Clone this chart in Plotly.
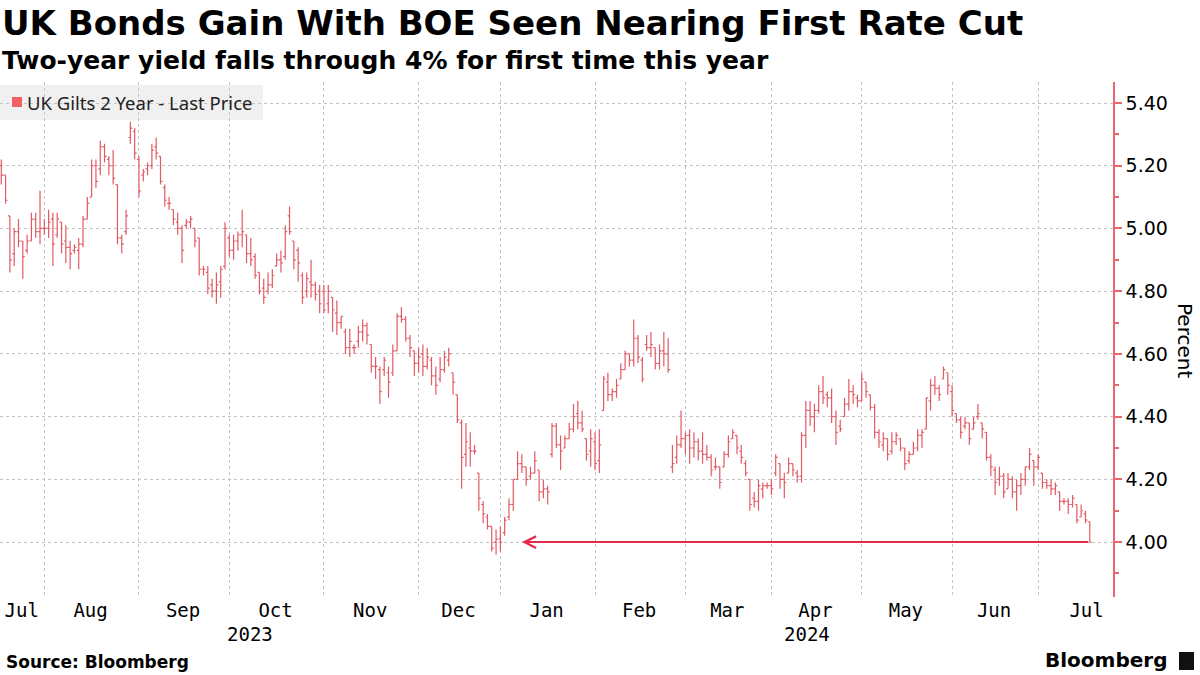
import pandas as pd
import plotly.graph_objects as go

# ---------------- data ----------------
uk_holidays = ["2023-08-28", "2023-12-25", "2023-12-26", "2024-01-01",
               "2024-03-29", "2024-04-01", "2024-05-06", "2024-05-27"]
first_day = "2023-07-18"
last_day = "2024-07-17"
axis_end_day = "2024-08-01"

opens = [
    5.20, 5.17, 5.04, 4.92, 4.99, 4.96, 4.93, 4.96, 5.03, 4.99,
    5.00, 5.00, 5.03, 4.98, 5.02, 4.96, 4.94, 4.93, 4.93, 4.95,
    5.03, 5.10, 5.20, 5.19, 5.26, 5.22, 5.20, 5.14, 4.97, 4.99,
    5.29, 5.31, 5.22, 5.17, 5.19, 5.20, 5.26, 5.23, 5.13, 5.08,
    5.06, 5.02, 5.00, 5.01, 5.02, 5.00, 4.97, 4.87, 4.86, 4.82,
    4.80, 4.83, 4.88, 4.97, 4.93, 4.96, 4.98, 4.98, 4.92, 4.91,
    4.86, 4.81, 4.80, 4.82, 4.88, 4.90, 4.91, 5.04, 4.96, 4.93,
    4.85, 4.80, 4.83, 4.82, 4.80, 4.80, 4.76, 4.78, 4.73, 4.70,
    4.67, 4.62, 4.62, 4.64, 4.67, 4.69, 4.63, 4.56, 4.55, 4.55,
    4.54, 4.54, 4.61, 4.72, 4.71, 4.65, 4.61, 4.57, 4.60, 4.56,
    4.58, 4.53, 4.52, 4.55, 4.58, 4.54, 4.47, 4.38, 4.28, 4.30,
    4.29, 4.22, 4.12, 4.08, 4.05, 4.00, 4.01, 4.03, 4.08, 4.12,
    4.20, 4.25, 4.24, 4.21, 4.22, 4.23, 4.16, 4.17, 4.28, 4.37,
    4.31, 4.30, 4.33, 4.36, 4.41, 4.38, 4.33, 4.29, 4.32, 4.26,
    4.42, 4.51, 4.47, 4.48, 4.52, 4.55, 4.60, 4.58, 4.65, 4.58,
    4.63, 4.62, 4.62, 4.57, 4.61, 4.60, 4.24, 4.27, 4.31, 4.33,
    4.34, 4.30, 4.32, 4.29, 4.28, 4.27, 4.24, 4.24, 4.24, 4.28,
    4.33, 4.34, 4.29, 4.25, 4.20, 4.14, 4.13, 4.17, 4.18, 4.18,
    4.22, 4.25, 4.20, 4.22, 4.25, 4.22, 4.21, 4.34, 4.42, 4.40,
    4.42, 4.48, 4.47, 4.46, 4.40, 4.37, 4.40, 4.44, 4.48, 4.46,
    4.45, 4.51, 4.47, 4.43, 4.35, 4.31, 4.33, 4.29, 4.32, 4.33,
    4.30, 4.26, 4.28, 4.30, 4.34, 4.36, 4.45, 4.50, 4.49, 4.52,
    4.54, 4.48, 4.41, 4.39, 4.37, 4.38, 4.36, 4.40, 4.38, 4.35,
    4.27, 4.23, 4.20, 4.21, 4.17, 4.20, 4.16, 4.18, 4.20, 4.24,
    4.26, 4.24, 4.22, 4.19, 4.18, 4.17, 4.16, 4.13, 4.13, 4.12,
    4.12, 4.08, 4.09, 4.065,
]
highs = [
    5.22, 5.17, 5.04, 5.00, 5.03, 4.96, 4.98, 5.05, 5.05, 5.12,
    5.03, 5.06, 5.05, 5.05, 5.02, 5.01, 4.96, 4.95, 4.97, 5.04,
    5.10, 5.22, 5.22, 5.28, 5.27, 5.23, 5.25, 5.14, 4.98, 5.06,
    5.34, 5.32, 5.23, 5.19, 5.21, 5.27, 5.29, 5.23, 5.14, 5.10,
    5.06, 5.05, 5.01, 5.03, 5.04, 5.00, 4.97, 4.88, 4.88, 4.84,
    4.86, 4.88, 5.02, 4.98, 4.98, 4.99, 5.06, 4.98, 4.97, 4.92,
    4.86, 4.84, 4.86, 4.87, 4.92, 4.93, 5.01, 5.07, 4.96, 4.94,
    4.86, 4.86, 4.90, 4.83, 4.82, 4.82, 4.82, 4.78, 4.77, 4.72,
    4.68, 4.68, 4.63, 4.69, 4.71, 4.70, 4.63, 4.59, 4.56, 4.59,
    4.56, 4.63, 4.73, 4.75, 4.72, 4.66, 4.61, 4.62, 4.63, 4.62,
    4.59, 4.56, 4.59, 4.61, 4.62, 4.54, 4.47, 4.39, 4.38, 4.35,
    4.31, 4.22, 4.13, 4.09, 4.05, 4.04, 4.05, 4.08, 4.14, 4.20,
    4.29, 4.28, 4.24, 4.24, 4.29, 4.23, 4.20, 4.18, 4.38, 4.38,
    4.34, 4.34, 4.38, 4.44, 4.45, 4.42, 4.33, 4.36, 4.35, 4.36,
    4.53, 4.54, 4.49, 4.52, 4.57, 4.61, 4.60, 4.71, 4.66, 4.59,
    4.66, 4.67, 4.62, 4.63, 4.67, 4.65, 4.31, 4.34, 4.42, 4.35,
    4.36, 4.35, 4.33, 4.35, 4.31, 4.28, 4.27, 4.24, 4.29, 4.34,
    4.36, 4.34, 4.31, 4.26, 4.20, 4.16, 4.20, 4.19, 4.19, 4.20,
    4.28, 4.25, 4.22, 4.27, 4.25, 4.23, 4.35, 4.45, 4.45, 4.44,
    4.50, 4.53, 4.48, 4.49, 4.42, 4.39, 4.46, 4.52, 4.50, 4.47,
    4.54, 4.51, 4.47, 4.44, 4.36, 4.35, 4.33, 4.35, 4.35, 4.33,
    4.30, 4.29, 4.32, 4.36, 4.36, 4.46, 4.52, 4.53, 4.50, 4.56,
    4.54, 4.50, 4.41, 4.40, 4.40, 4.38, 4.40, 4.44, 4.38, 4.35,
    4.28, 4.24, 4.24, 4.22, 4.22, 4.21, 4.20, 4.22, 4.24, 4.30,
    4.26, 4.28, 4.22, 4.20, 4.20, 4.19, 4.16, 4.14, 4.14, 4.15,
    4.12, 4.12, 4.10, 4.065,
]
lows = [
    5.14, 5.08, 4.86, 4.88, 4.94, 4.84, 4.92, 4.96, 4.97, 4.95,
    4.98, 4.97, 4.88, 4.97, 4.92, 4.89, 4.87, 4.92, 4.87, 4.94,
    5.03, 5.10, 5.13, 5.17, 5.21, 5.17, 5.14, 4.95, 4.92, 4.98,
    5.27, 5.22, 5.10, 5.15, 5.17, 5.19, 5.22, 5.14, 5.07, 5.06,
    5.01, 4.98, 4.89, 5.00, 5.00, 4.94, 4.85, 4.85, 4.79, 4.78,
    4.76, 4.78, 4.87, 4.91, 4.90, 4.93, 4.94, 4.89, 4.88, 4.84,
    4.79, 4.76, 4.79, 4.81, 4.88, 4.86, 4.90, 4.98, 4.87, 4.83,
    4.76, 4.78, 4.78, 4.77, 4.73, 4.73, 4.73, 4.67, 4.66, 4.68,
    4.60, 4.59, 4.60, 4.62, 4.64, 4.63, 4.54, 4.52, 4.44, 4.53,
    4.46, 4.53, 4.61, 4.70, 4.64, 4.59, 4.53, 4.54, 4.53, 4.55,
    4.50, 4.47, 4.51, 4.54, 4.56, 4.47, 4.38, 4.17, 4.24, 4.24,
    4.28, 4.10, 4.06, 4.04, 3.97, 3.96, 3.97, 4.02, 4.07, 4.10,
    4.20, 4.22, 4.18, 4.20, 4.22, 4.13, 4.14, 4.12, 4.27, 4.30,
    4.23, 4.30, 4.33, 4.35, 4.36, 4.35, 4.26, 4.24, 4.23, 4.22,
    4.42, 4.45, 4.45, 4.46, 4.52, 4.55, 4.56, 4.56, 4.57, 4.51,
    4.61, 4.59, 4.55, 4.55, 4.56, 4.54, 4.22, 4.25, 4.30, 4.28,
    4.25, 4.27, 4.26, 4.25, 4.26, 4.21, 4.23, 4.17, 4.24, 4.27,
    4.33, 4.28, 4.25, 4.21, 4.10, 4.11, 4.10, 4.14, 4.17, 4.15,
    4.21, 4.17, 4.14, 4.22, 4.21, 4.19, 4.19, 4.30, 4.37, 4.35,
    4.41, 4.44, 4.43, 4.38, 4.31, 4.35, 4.40, 4.42, 4.44, 4.43,
    4.45, 4.46, 4.42, 4.33, 4.30, 4.29, 4.26, 4.28, 4.31, 4.29,
    4.23, 4.25, 4.28, 4.29, 4.30, 4.36, 4.42, 4.47, 4.45, 4.52,
    4.47, 4.40, 4.38, 4.33, 4.36, 4.31, 4.36, 4.39, 4.33, 4.26,
    4.21, 4.15, 4.18, 4.14, 4.17, 4.14, 4.10, 4.15, 4.18, 4.23,
    4.18, 4.23, 4.17, 4.17, 4.15, 4.15, 4.10, 4.12, 4.09, 4.11,
    4.06, 4.08, 4.06, 4.00,
]
closes = [
    5.17, 5.09, 4.90, 4.99, 4.96, 4.91, 4.96, 5.03, 4.99, 5.00,
    5.00, 5.02, 4.95, 5.03, 4.95, 4.94, 4.92, 4.94, 4.95, 5.03,
    5.08, 5.20, 5.15, 5.26, 5.23, 5.20, 5.16, 4.97, 4.95, 5.04,
    5.32, 5.24, 5.12, 5.18, 5.20, 5.25, 5.24, 5.15, 5.09, 5.08,
    5.03, 5.00, 4.93, 5.02, 5.03, 4.96, 4.87, 4.87, 4.81, 4.80,
    4.82, 4.87, 5.00, 4.93, 4.96, 4.98, 4.99, 4.92, 4.90, 4.85,
    4.80, 4.78, 4.82, 4.85, 4.90, 4.89, 4.99, 4.99, 4.90, 4.89,
    4.78, 4.84, 4.82, 4.79, 4.76, 4.74, 4.80, 4.74, 4.70, 4.72,
    4.62, 4.64, 4.62, 4.67, 4.69, 4.66, 4.56, 4.56, 4.48, 4.58,
    4.51, 4.61, 4.72, 4.71, 4.65, 4.62, 4.57, 4.59, 4.56, 4.59,
    4.53, 4.50, 4.55, 4.59, 4.60, 4.51, 4.39, 4.27, 4.32, 4.29,
    4.29, 4.14, 4.09, 4.05, 3.98, 4.01, 4.00, 4.07, 4.12, 4.20,
    4.25, 4.24, 4.20, 4.22, 4.26, 4.16, 4.17, 4.16, 4.37, 4.31,
    4.29, 4.33, 4.36, 4.40, 4.38, 4.36, 4.28, 4.33, 4.25, 4.31,
    4.52, 4.47, 4.48, 4.50, 4.55, 4.60, 4.58, 4.65, 4.59, 4.52,
    4.62, 4.63, 4.57, 4.61, 4.60, 4.55, 4.25, 4.31, 4.33, 4.34,
    4.30, 4.32, 4.29, 4.28, 4.27, 4.23, 4.24, 4.19, 4.28, 4.32,
    4.35, 4.30, 4.27, 4.22, 4.12, 4.13, 4.18, 4.18, 4.18, 4.17,
    4.27, 4.20, 4.19, 4.25, 4.23, 4.21, 4.34, 4.42, 4.40, 4.42,
    4.48, 4.46, 4.46, 4.40, 4.35, 4.36, 4.44, 4.48, 4.47, 4.45,
    4.52, 4.48, 4.43, 4.35, 4.32, 4.33, 4.28, 4.32, 4.34, 4.30,
    4.25, 4.28, 4.30, 4.34, 4.35, 4.46, 4.50, 4.49, 4.47, 4.55,
    4.50, 4.42, 4.39, 4.35, 4.38, 4.33, 4.38, 4.41, 4.36, 4.27,
    4.24, 4.19, 4.21, 4.16, 4.20, 4.16, 4.18, 4.20, 4.24, 4.28,
    4.24, 4.27, 4.19, 4.18, 4.17, 4.18, 4.13, 4.13, 4.12, 4.14,
    4.07, 4.10, 4.07, 4.00,
]

month_labels = ["Jul", "Aug", "Sep", "Oct", "Nov", "Dec", "Jan",
                "Feb", "Mar", "Apr", "May", "Jun", "Jul"]
year_labels = ["2023", "2024"]
y_tick_values = [4.0, 4.2, 4.4, 4.6, 4.8, 5.0, 5.2, 5.4]
arrow_target_day = "2024-01-09"
series_name = "UK Gilts 2 Year - Last Price"

# ---------------- trading-day axis ----------------
trading = pd.bdate_range(first_day, axis_end_day, freq="C", holidays=uk_holidays)
dates = trading[trading <= pd.Timestamp(last_day)]
n = len(dates)
xs = list(range(n))

month_starts = [0] + [i for i in range(1, len(trading))
                      if trading[i].month != trading[i - 1].month]
month_centers = [(a + b) / 2 - 0.25 for a, b in zip(month_starts[:-1], month_starts[1:])]
grid_positions = month_starts[1:-1]

x_min, x_max = -0.3, 258.4
first_2024 = next(i for i, d in enumerate(trading) if d.year == 2024)
year_centers = [(x_min + first_2024) / 2, (first_2024 + x_max) / 2]
arrow_x = int(list(dates).index(pd.Timestamp(arrow_target_day)))

# ---------------- styling ----------------
BAR = "#e25a64"
AXIS = "#e8666e"
ARROW = "#e62a4c"
GRID = "#c4c4c4"

W, H = 1200, 675
ML, MR, MT, MB = 0, 87, 82, 78
PW, PH = W - ML - MR, H - MT - MB


def px(xp):
    return (xp - ML) / PW


def py(yp):
    return (H - MB - yp) / PH


fig = go.Figure()
fig.add_trace(go.Ohlc(
    x=xs, open=opens, high=highs, low=lows, close=closes,
    increasing=dict(line=dict(color=BAR, width=1.2)),
    decreasing=dict(line=dict(color=BAR, width=1.2)),
    tickwidth=0.45, showlegend=False, name=series_name,
    text=[d.strftime("%Y-%m-%d") for d in dates], hoverinfo="text+y",
))

annotations = [
    dict(text="<b>UK Bonds Gain With BOE Seen Nearing First Rate Cut</b>",
         xref="paper", yref="paper", x=px(0), y=py(23), xanchor="left", yanchor="middle",
         showarrow=False, font=dict(family="DejaVu Sans", size=34, color="#000")),
    dict(text="<b>Two-year yield falls through 4% for first time this year</b>",
         xref="paper", yref="paper", x=px(0), y=py(60), xanchor="left", yanchor="middle",
         showarrow=False, font=dict(family="DejaVu Sans", size=25, color="#000")),
    dict(text=series_name, xref="paper", yref="paper", x=px(25), y=py(102),
         xanchor="left", yanchor="middle", showarrow=False,
         font=dict(family="Noto Sans", size=18.5, color="#222")),
    dict(text="Percent", xref="paper", yref="paper", x=px(1185), y=py(340),
         xanchor="center", yanchor="middle", textangle=90, showarrow=False,
         font=dict(family="DejaVu Sans", size=20, color="#000")),
    dict(text="<b>Source: Bloomberg</b>", xref="paper", yref="paper", x=px(4), y=py(662),
         xanchor="left", yanchor="middle", showarrow=False,
         font=dict(family="DejaVu Sans", size=17, color="#000")),
    dict(text="<b>Bloomberg</b>", xref="paper", yref="paper", x=px(1169), y=py(660),
         xanchor="right", yanchor="middle", showarrow=False,
         font=dict(family="DejaVu Sans", size=20, color="#000")),
    dict(text="", x=arrow_x, y=closes[-1], ax=xs[-1], ay=closes[-1],
         xref="x", yref="y", axref="x", ayref="y", showarrow=True,
         arrowhead=5, arrowsize=1.15, arrowwidth=2, arrowcolor=ARROW, standoff=0),
]
for label, xc in zip(year_labels, year_centers):
    annotations.append(dict(text=label, x=xc, xref="x", yref="paper", y=py(634),
                            xanchor="center", yanchor="middle", showarrow=False,
                            font=dict(family="DejaVu Sans Mono", size=19, color="#000")))

shapes = [
    dict(type="rect", xref="paper", yref="paper", x0=px(0), x1=px(263), y0=py(120), y1=py(85),
         fillcolor="#f0f0f0", line=dict(width=0), layer="below"),
    dict(type="rect", xref="paper", yref="paper", x0=px(12), x1=px(22), y0=py(107), y1=py(97),
         fillcolor="#f26066", line=dict(width=0)),
    dict(type="rect", xref="paper", yref="paper", x0=px(1179), x1=px(1194), y0=py(670), y1=py(652),
         fillcolor="#111", line=dict(width=0)),
]

fig.update_layout(
    width=W, height=H, paper_bgcolor="white", plot_bgcolor="white",
    margin=dict(l=ML, r=MR, t=MT, b=MB),
    showlegend=False, annotations=annotations, shapes=shapes,
    xaxis=dict(
        range=[x_min, x_max], rangeslider=dict(visible=False),
        tickmode="array", tickvals=month_centers, ticktext=month_labels,
        showgrid=False, zeroline=False, showline=False, ticks="",
        tickfont=dict(family="DejaVu Sans Mono", size=19, color="#000"),
        minor=dict(tickmode="array", tickvals=grid_positions, showgrid=True,
                   gridcolor=GRID, griddash="dot", gridwidth=1, ticks=""),
    ),
    yaxis=dict(
        side="right", range=[3.825, 5.467], tickmode="array", tickvals=y_tick_values,
        tickformat=".2f", showgrid=True, gridcolor=GRID, griddash="dot", gridwidth=1,
        zeroline=False, showline=True, linecolor=AXIS, linewidth=1.5,
        ticks="outside", ticklen=7, tickwidth=2, tickcolor=AXIS,
        minor=dict(dtick=0.1, tick0=4.0, ticks="outside", ticklen=4, tickcolor=AXIS,
                   showgrid=False),
        tickfont=dict(family="DejaVu Sans", size=19, color="#000"),
    ),
)

fig.write_html("out.html", config={"displayModeBar": False},
               post_script="document.body.style.margin='0px';")
